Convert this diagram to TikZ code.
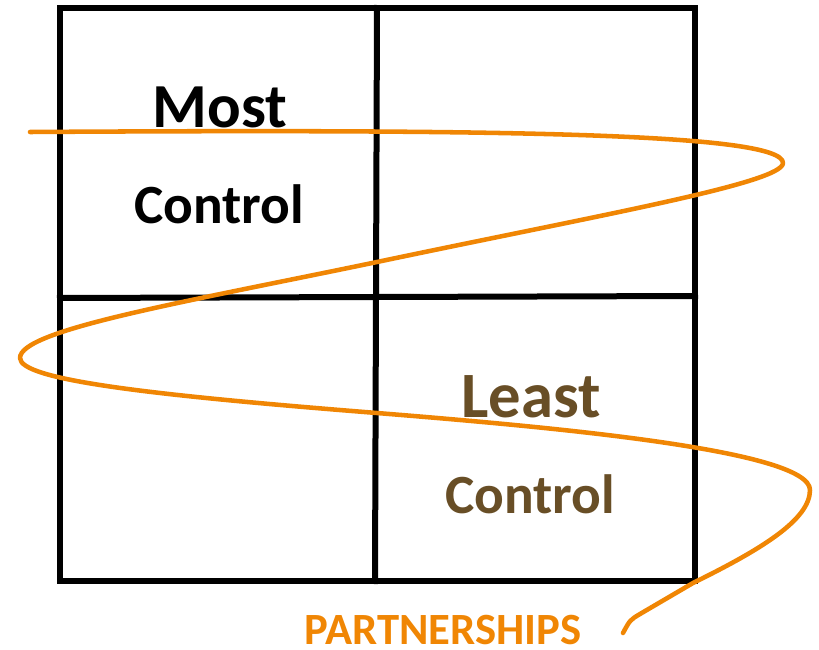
\documentclass[tikz,border=0pt]{standalone}
\usepackage{fontspec}
\setmainfont{Carlito}
\usepackage{tikz}
\definecolor{trailorange}{RGB}{240,134,4}
\definecolor{leastbrown}{RGB}{104,78,38}
\tikzset{
    framebox/.style={draw=black, line width=4.5pt, line cap=rect},
    swoosh/.style={draw=trailorange, line width=3.4pt, line cap=round, line join=round},
    bigword/.style={anchor=base, inner sep=0pt, font=\fontsize{47}{56}\selectfont\bfseries},
    smallword/.style={anchor=base, inner sep=0pt, font=\fontsize{41.5}{49}\selectfont\bfseries},
}
\begin{document}
\begin{tikzpicture}[x=0.75pt, y=-0.75pt]
    \useasboundingbox (0,0) rectangle (819,650);
    % the four cells
    \draw[framebox] (60,8) rectangle (695,581);
    \draw[framebox] (377,8) -- (375,581);
    \draw[framebox] (60,298) -- (695,296);
    % texts
    \node[bigword] (most) at (220,127) {Most};
    \node[smallword] (mostctl) at (219,223) {Control};
    \node[bigword, text=leastbrown, font=\fontsize{48.5}{58}\selectfont\bfseries] (least) at (531,417) {Least};
    \node[smallword, text=leastbrown] (leastctl) at (530,513) {Control};
    \node[anchor=base, inner sep=0pt, text=trailorange,
      font=\fontsize{33.5}{40}\selectfont\bfseries] (partner) at (443,644) {PARTNERSHIPS};
    % the orange trail
    \draw[swoosh] (30,132) .. controls (500,129) and (783,133) .. (783,163)
      .. controls (783,183) and (600,215) .. (377,262)
      .. controls (180,303) and (20,330) .. (20,358)
      .. controls (20,380) and (150,395) .. (377,413)
      .. controls (550,427) and (810,450) .. (810,490)
      .. controls (810,520) and (760,550) .. (693,583)
      -- (640,614) .. controls (630,620) .. (623,633);
\end{tikzpicture}
\end{document}
